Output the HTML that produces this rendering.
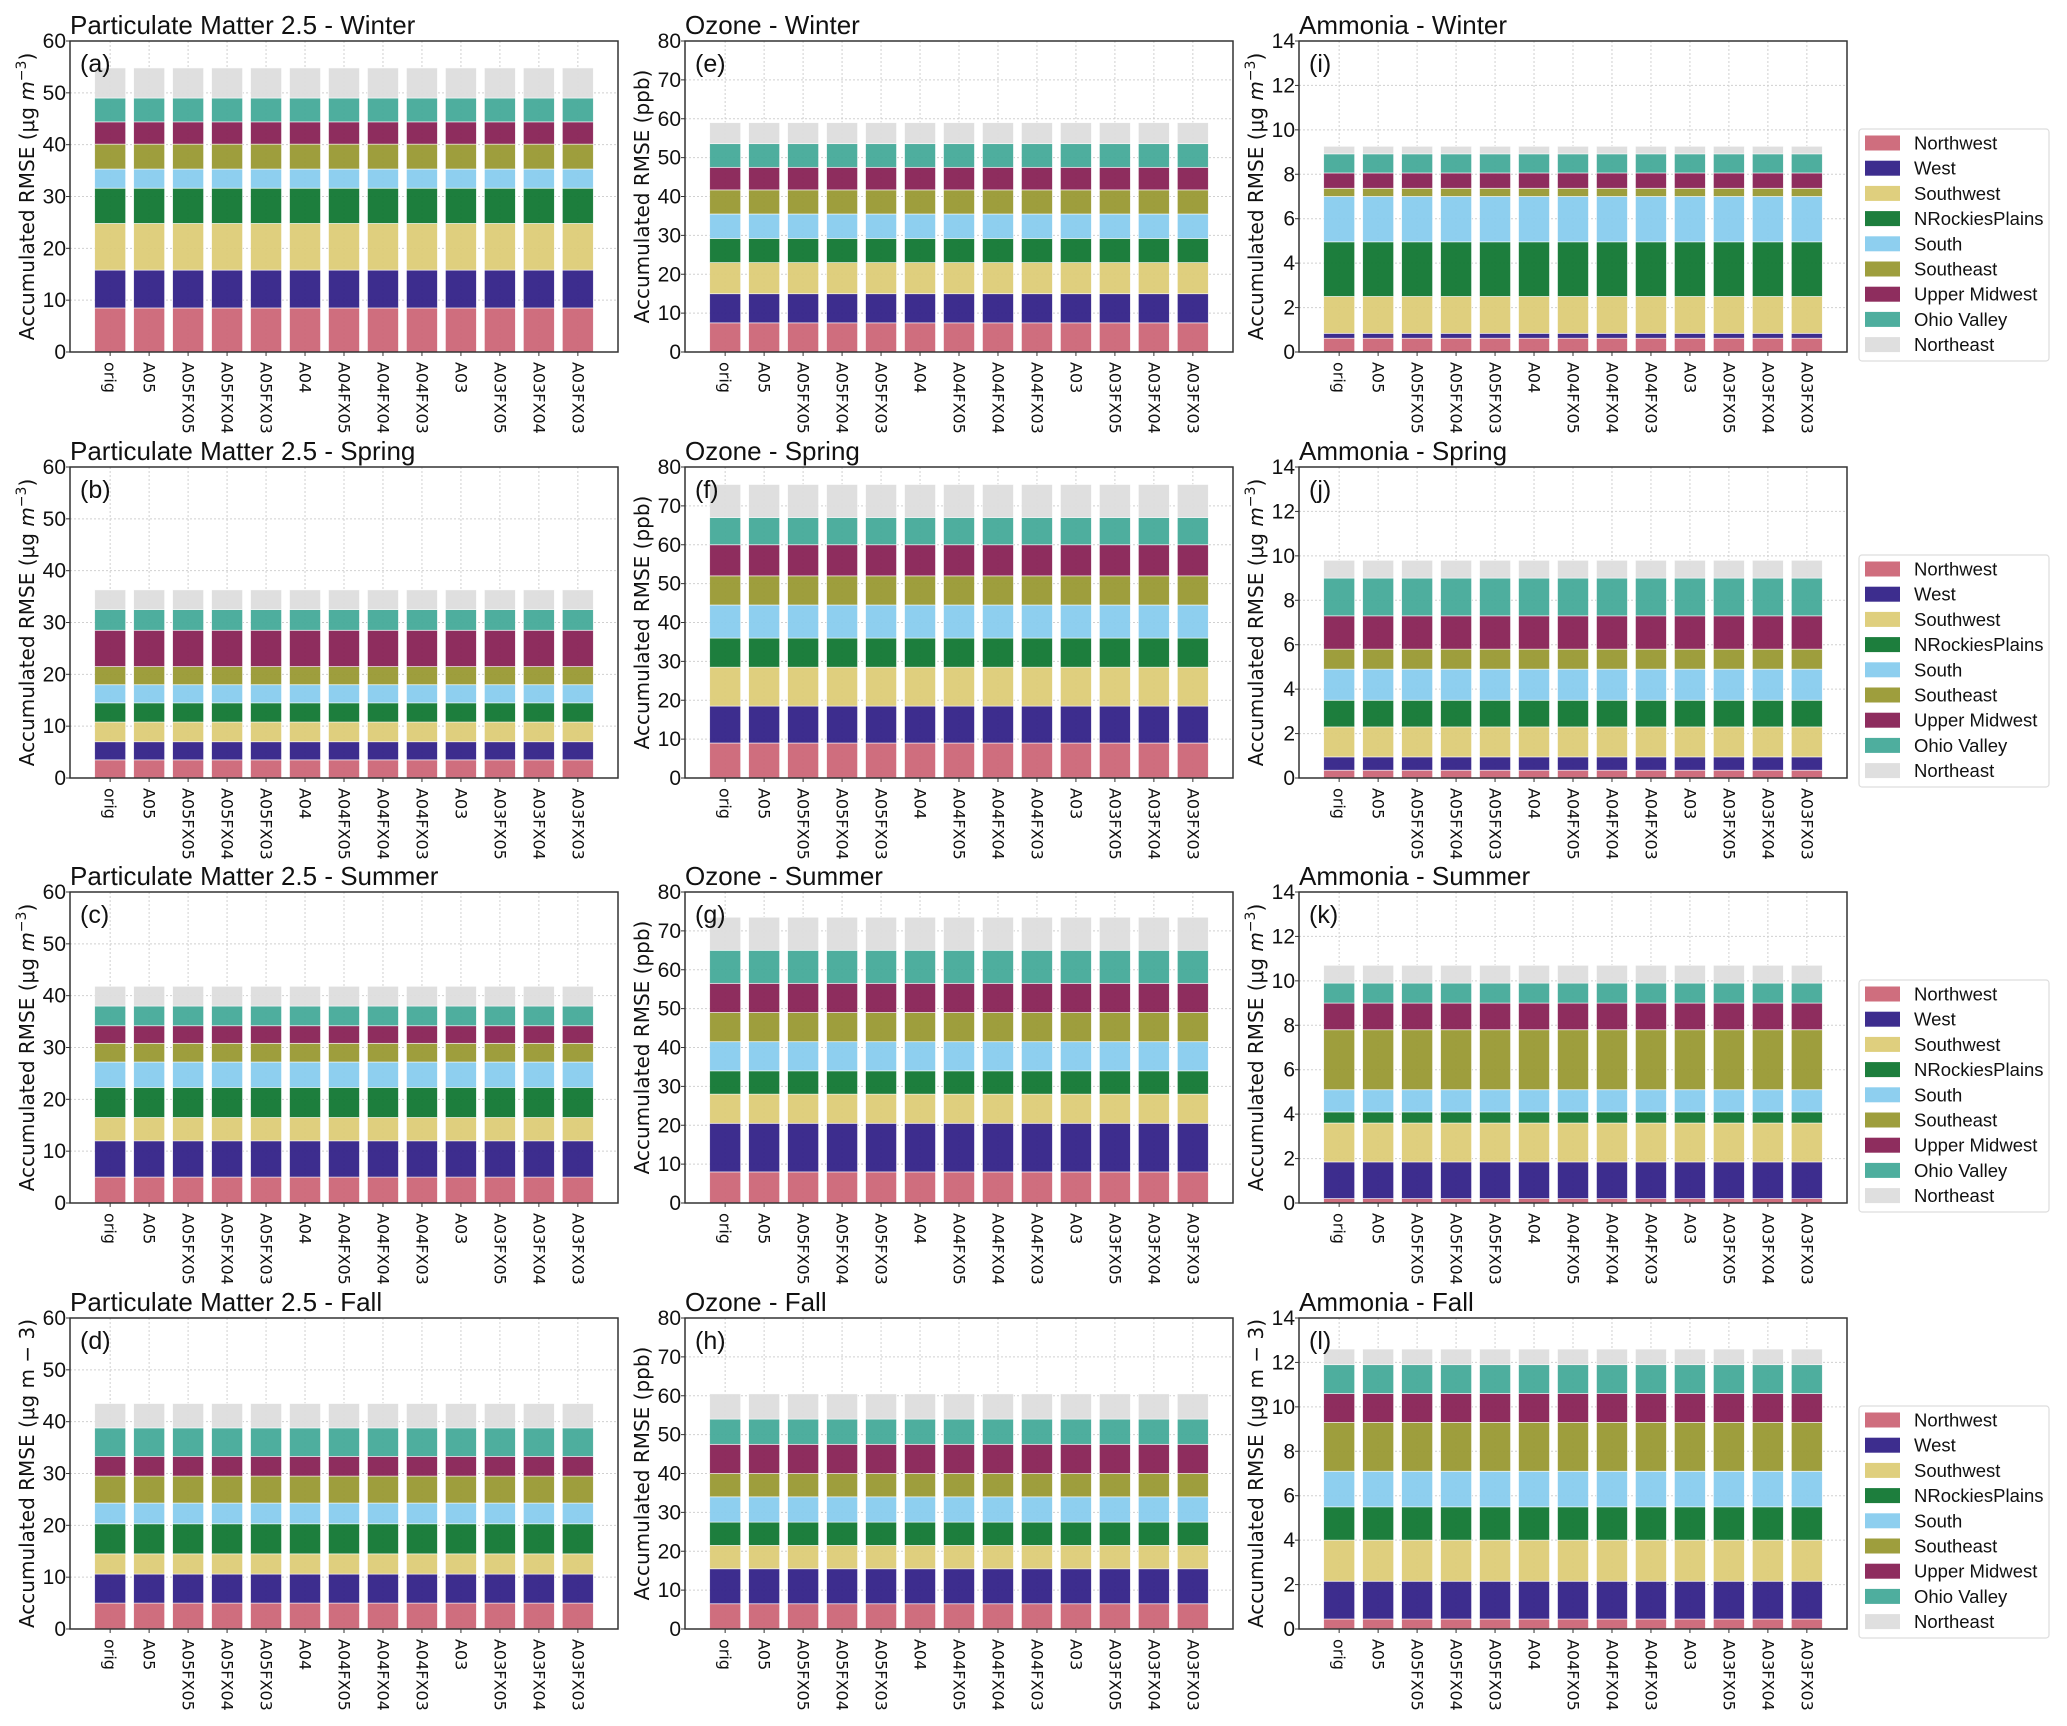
<!DOCTYPE html>
<html><head><meta charset="utf-8"><style>
html,body{margin:0;padding:0;background:#fff;}
svg{display:block;}
</style></head><body>
<svg id="fig" xmlns="http://www.w3.org/2000/svg" width="2067" height="1726" viewBox="0 0 2067 1726"></svg>
<script>
const categories = ["orig","A05","A05FX05","A05FX04","A05FX03","A04","A04FX05","A04FX04","A04FX03","A03","A03FX05","A03FX04","A03FX03"];
const regions = ["Northwest","West","Southwest","NRockiesPlains","South","Southeast","Upper Midwest","Ohio Valley","Northeast"];
// cumulative stack tops per panel (same for each scenario)
const pmWinter = [8.5,15.8,24.8,31.6,35.3,40.1,44.4,49.0,54.8];
const pmSpring = [3.5,7.0,10.8,14.5,18.0,21.5,28.5,32.5,36.3];
const pmSummer = [5.0,12.0,16.5,22.3,27.2,30.8,34.2,38.0,41.8];
const pmFall = [5.0,10.6,14.5,20.3,24.3,29.5,33.3,38.8,43.5];
const o3Winter = [7.5,15.0,23.0,29.2,35.5,41.7,47.5,53.6,59.0];
const o3Spring = [9.0,18.5,28.5,36.0,44.5,52.0,60.0,67.0,75.5];
const o3Summer = [8.0,20.5,28.0,34.0,41.5,49.0,56.5,65.0,73.5];
const o3Fall = [6.5,15.5,21.5,27.5,34.0,40.0,47.5,54.0,60.5];
const nh3Winter = [0.62,0.84,2.5,4.96,7.0,7.37,8.06,8.92,9.26];
const nh3Spring = [0.35,0.95,2.3,3.5,4.9,5.8,7.3,9.0,9.8];
const nh3Summer = [0.2,1.85,3.6,4.1,5.1,7.8,9.0,9.9,10.7];
const nh3Fall = [0.45,2.15,4.0,5.5,7.1,9.3,10.6,11.9,12.6];
const pmTicks = [0,10,20,30,40,50,60];
const o3Ticks = [0,10,20,30,40,50,60,70,80];
const nh3Ticks = [0,2,4,6,8,10,12,14];

const colors = ["#CC6677","#332288","#DDCC77","#117733","#88CCEE","#999933","#882255","#44AA99","#DDDDDD"];
const NS = "http://www.w3.org/2000/svg";
const svg = document.getElementById('fig');
function mk(tag, attrs, parent){const e=document.createElementNS(NS,tag);for(const k in attrs)e.setAttribute(k,attrs[k]);(parent||svg).appendChild(e);return e;}

const colX = [70,685,1299];
const rowY = [41,467,892,1318];
const AW = 548, AH = 311;
const seasons = ["Winter","Spring","Summer","Fall"];
const letters = ["abcd","efgh","ijkl"];
const species = [
 {name:"Particulate Matter 2.5", data:[pmWinter,pmSpring,pmSummer,pmFall], ticks:pmTicks, max:60, unit:"μg"},
 {name:"Ozone", data:[o3Winter,o3Spring,o3Summer,o3Fall], ticks:o3Ticks, max:80, unit:"ppb"},
 {name:"Ammonia", data:[nh3Winter,nh3Spring,nh3Summer,nh3Fall], ticks:nh3Ticks, max:14, unit:"μg"}
];
const narrow = '"Liberation Sans Narrow","Liberation Sans",sans-serif';
const dejavu = '"DejaVu Sans","Liberation Sans",sans-serif';

species.forEach((sp, c) => {
  seasons.forEach((season, r) => {
    const L = colX[c], T = rowY[r], B = T + AH;
    const g = mk('g', {});
    
    
    const xmin = -1.03, xmax = 13.03;
    const xs = v => L + (v - xmin) / (xmax - xmin) * AW;
    const ys = v => B - v / sp.max * AH;
    // grid
    sp.ticks.forEach(t => {
      const gl = mk('line', {x1:L,x2:L+AW,y1:ys(t),y2:ys(t),stroke:'#d0d0d0','stroke-width':1,'stroke-dasharray':'2,2'}, g);
      
      
    });
    categories.forEach((cat, i) => {
      const gl = mk('line', {x1:xs(i),x2:xs(i),y1:T,y2:B,stroke:'#d0d0d0','stroke-width':1,'stroke-dasharray':'2,2'}, g);
      
      
    });
    // bars
    const tops = sp.data[r];
    categories.forEach((cat, i) => {
      let prev = 0;
      tops.forEach((top, k) => {
        const y1 = ys(top), y0 = ys(prev);
        const rect = mk('rect', {x:xs(i)-15.5, y:y1, width:31, height:Math.max(0,y0-y1), fill:colors[k], 'fill-opacity':0.95, stroke:'#fff','stroke-width':0.8,'stroke-opacity':0.7}, g);
        
        
        prev = top;
      });
    });
    // axes frame
    const fr = mk('rect', {x:L,y:T,width:AW,height:AH,fill:'none',stroke:'#333','stroke-width':1.5}, g);
    
    
    // y ticks
    sp.ticks.forEach(t => {
      mk('line', {x1:L-4,x2:L,y1:ys(t),y2:ys(t),stroke:'#333','stroke-width':1}, g);
      const tl = mk('text', {x:L-4,y:ys(t)+7,'text-anchor':'end','font-family':narrow,'font-size':21,fill:'#111'}, g);
      tl.textContent = t;
      
      
    });
    // x tick labels
    categories.forEach((cat, i) => {
      mk('line', {x1:xs(i),x2:xs(i),y1:B,y2:B+4,stroke:'#333','stroke-width':1}, g);
      const xl = mk('text', {x:xs(i),y:B+10,'text-anchor':'start','dominant-baseline':'central','font-family':dejavu,'font-size':16,fill:'#111',transform:`rotate(90 ${xs(i)} ${B+10})`}, g);
      xl.textContent = cat;
      
      
    });
    // title
    const ti = mk('text', {x:L,y:T-7,'font-family':narrow,'font-size':26,fill:'#111'}, g);
    ti.textContent = sp.name + ' - ' + season;
    
    
    // letter
    const le = mk('text', {x:L+10,y:T+31,'font-family':narrow,'font-size':25,fill:'#111'}, g);
    le.textContent = '(' + letters[c][r] + ')';
    
    
    // y label
    const yl = mk('text', {x:0,y:0,'text-anchor':'middle','font-family':dejavu,'font-size':20,fill:'#111',transform:`translate(${L-36} ${T+AH/2}) rotate(-90)`}, g);
    if (sp.unit === 'ppb') {
      yl.textContent = 'Accumulated RMSE (ppb)';
    } else if (r === 3) {
      yl.textContent = 'Accumulated RMSE (μg m − 3)';
    } else {
      yl.appendChild(document.createTextNode('Accumulated RMSE (μg '));
      const it = mk('tspan', {'font-style':'italic'}, yl); it.textContent = 'm';
      const sup = mk('tspan', {dy:-8,'font-size':14}, yl); sup.textContent = '−3';
      const cl = mk('tspan', {dy:8}, yl); cl.textContent = ')';
    }
    
    
    // legend
    if (c === 2) {
      const lg = mk('g', {}, svg);
      
      
      const lt = T + 88;
      mk('rect', {x:1859,y:lt,width:190,height:232,rx:3,fill:'#fff',stroke:'#ddd','stroke-width':1.2}, lg);
      regions.forEach((reg, k) => {
        const cy = lt + 14 + k * 25.2;
        const e = mk('g', {}, lg);
        
        
        mk('rect', {x:1865,y:cy-7.5,width:35,height:15,fill:colors[k],'fill-opacity':0.95}, e);
        const tx = mk('text', {x:1914,y:cy+6.5,'font-family':narrow,'font-size':18.5,fill:'#111'}, e);
        tx.textContent = reg;
      });
    }
  });
});
</script>
</body></html>
